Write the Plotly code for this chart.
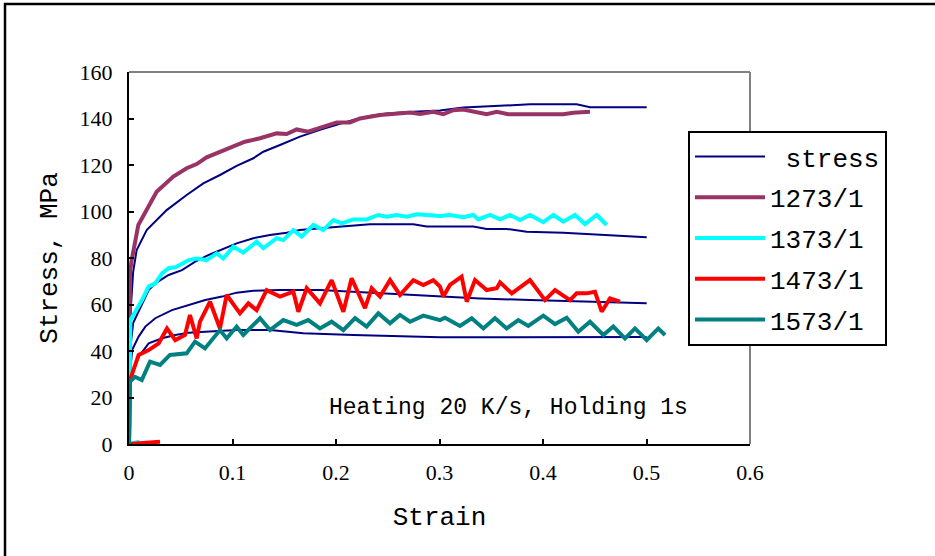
import plotly.graph_objects as go

# ---------------- data ----------------
x_ticks = [0, 0.1, 0.2, 0.3, 0.4, 0.5, 0.6]
x_tick_labels = ["0", "0.1", "0.2", "0.3", "0.4", "0.5", "0.6"]
y_ticks = [0, 20, 40, 60, 80, 100, 120, 140, 160]
y_tick_labels = ["0", "20", "40", "60", "80", "100", "120", "140", "160"]

series_names = ["1273/1", "1373/1", "1473/1", "1573/1"]

stress1_pts = [(0, 0), (0.002, 60), (0.004, 74), (0.0074, 83.4), (0.0171, 92.0), (0.0267, 96.3),
               (0.0364, 100.6), (0.0557, 107.1), (0.0718, 112.1), (0.0879, 115.7), (0.104, 119.6),
               (0.1201, 122.9), (0.1298, 125.7), (0.1459, 128.6), (0.1652, 132.2), (0.1845, 135.1),
               (0.2007, 137.2), (0.2167, 139.4), (0.2329, 141.1), (0.249, 142.2), (0.2747, 142.9),
               (0.3005, 143.4), (0.323, 144.7), (0.3553, 145.4), (0.3874, 146.1), (0.4325, 146.1),
               (0.4454, 144.8), (0.5002, 144.8)]
stress2_pts = [(0, 0), (0.001, 40), (0.004, 52), (0.0126, 60.5), (0.019, 66.2), (0.0254, 69.1),
               (0.0383, 72.7), (0.0512, 74.8), (0.064, 78.4), (0.077, 81.3), (0.0879, 83.4),
               (0.104, 86.3), (0.1201, 88.5), (0.1362, 89.9), (0.1523, 90.9), (0.1652, 92.0),
               (0.1845, 92.8), (0.2167, 93.8), (0.2329, 94.5), (0.2747, 94.5), (0.2876, 93.5),
               (0.3327, 93.5), (0.3456, 92.5), (0.365, 92.5), (0.3842, 91.3), (0.4196, 90.9),
               (0.5002, 88.9)]
stress3_pts = [(0, 0), (0.001, 30), (0.003, 40.4), (0.0093, 46.2), (0.0158, 50.5), (0.0254, 54.1),
               (0.0415, 57.6), (0.0577, 59.8), (0.0737, 61.9), (0.09, 63.4), (0.104, 65.1),
               (0.1201, 65.9), (0.1459, 66.2), (0.1845, 66.2), (0.2167, 65.5), (0.249, 64.8),
               (0.3005, 63.7), (0.3391, 62.6), (0.3874, 61.9), (0.5002, 60.5)]
stress4_pts = [(0, 0), (0.001, 25), (0.005, 33), (0.01, 38), (0.019, 43.3), (0.0319, 45.5),
               (0.0447, 46.9), (0.0577, 47.9), (0.0737, 48.3), (0.104, 49.0), (0.1362, 49.0),
               (0.1684, 47.6), (0.2167, 46.9), (0.3005, 45.9), (0.5002, 46.0)]

s1273_pts = [(0, 0), (0.001, 74), (0.0026, 79.1), (0.009, 94.2), (0.0267, 108.5), (0.0428, 115.0),
             (0.0557, 118.6), (0.0654, 120.4), (0.075, 123.3), (0.0879, 125.6), (0.1008, 127.9),
             (0.112, 130.0), (0.1266, 131.5), (0.1427, 133.6), (0.1523, 133.3), (0.162, 135.3),
             (0.173, 134.3), (0.1845, 135.8), (0.2007, 138.3), (0.2135, 138.3), (0.2232, 140.0),
             (0.2425, 141.5), (0.2522, 141.9), (0.2715, 142.6), (0.2812, 141.9), (0.294, 142.9),
             (0.3037, 141.9), (0.3133, 143.6), (0.323, 143.9), (0.3327, 142.9), (0.3456, 141.8),
             (0.3553, 142.9), (0.3665, 141.8), (0.4196, 141.8), (0.4293, 142.5), (0.4454, 142.9)]
s1373_pts = [(0.01, 1), (0, 0), (0.0013, 53.3), (0.0061, 56.9), (0.0126, 61.9), (0.019, 67.7),
             (0.0254, 69.1), (0.0319, 73.4), (0.0383, 75.6), (0.045, 76.0), (0.0577, 79.1),
             (0.0654, 79.8), (0.075, 79.1), (0.0847, 82.0), (0.0911, 79.8), (0.1008, 84.9),
             (0.1104, 82.3), (0.1233, 87.0), (0.1298, 84.2), (0.1427, 88.5), (0.1491, 87.7),
             (0.1588, 92.0), (0.1668, 89.2), (0.1781, 94.2), (0.1877, 92.0), (0.1974, 96.3),
             (0.2055, 94.9), (0.2167, 96.6), (0.2296, 96.6), (0.2409, 98.5), (0.249, 97.8),
             (0.2586, 98.5), (0.2683, 97.8), (0.278, 98.8), (0.2908, 98.5), (0.3005, 98.1),
             (0.3101, 98.5), (0.323, 97.5), (0.3327, 98.5), (0.3375, 96.6), (0.3488, 98.5),
             (0.3585, 96.6), (0.3681, 98.5), (0.3778, 96.3), (0.3874, 98.5), (0.4003, 95.4),
             (0.41, 98.5), (0.4196, 95.6), (0.4309, 98.5), (0.4406, 94.6), (0.4519, 98.5),
             (0.4615, 94.2)]
s1473_pts = [(0.03, 1), (0, 0), (0.001, 27.5), (0.0093, 38.3), (0.019, 40.4), (0.0287, 43.3),
             (0.0367, 49.7), (0.0447, 44.7), (0.0541, 46.9), (0.0589, 55.5), (0.0654, 45.4),
             (0.0686, 52.6), (0.0783, 61.2), (0.0879, 49.7), (0.0944, 64.1), (0.1072, 56.2),
             (0.1153, 60.5), (0.1233, 57.6), (0.133, 66.2), (0.1459, 63.4), (0.1588, 65.5),
             (0.1636, 56.9), (0.1717, 67.0), (0.1845, 60.5), (0.1958, 70.5), (0.2071, 56.9),
             (0.2151, 71.3), (0.2232, 63.4), (0.228, 58.4), (0.2345, 67.0), (0.2425, 63.4),
             (0.2522, 70.5), (0.2618, 64.1), (0.2747, 70.5), (0.2844, 68.4), (0.294, 70.5),
             (0.3005, 67.7), (0.3037, 63.4), (0.3101, 68.4), (0.3214, 72.0), (0.3263, 61.2),
             (0.3343, 70.5), (0.3456, 66.2), (0.3553, 67.0), (0.3585, 69.5), (0.3698, 64.8),
             (0.3874, 70.5), (0.4019, 61.9), (0.4116, 66.2), (0.4261, 61.9), (0.4325, 64.8),
             (0.4422, 64.8), (0.4502, 65.5), (0.4567, 56.9), (0.4647, 62.6), (0.4744, 61.2)]
s1573_pts = [(0, 0), (0.001, 26.8), (0.0058, 28.9), (0.0123, 27.5), (0.0203, 35.4), (0.03, 34.0),
             (0.0396, 38.3), (0.0557, 39.0), (0.0638, 44.0), (0.0734, 41.1), (0.0879, 49.0),
             (0.0944, 45.4), (0.104, 50.5), (0.1104, 46.9), (0.1266, 54.1), (0.1362, 49.0),
             (0.1491, 53.3), (0.162, 51.2), (0.1732, 53.3), (0.1845, 49.7), (0.1958, 52.6),
             (0.2071, 49.0), (0.2184, 54.1), (0.2296, 50.5), (0.2409, 56.2), (0.2522, 51.9),
             (0.2618, 55.5), (0.2715, 52.6), (0.2844, 55.2), (0.3005, 53.3), (0.3053, 54.3),
             (0.3198, 50.8), (0.3311, 54.1), (0.3424, 49.7), (0.3536, 54.1), (0.3649, 49.7),
             (0.3761, 53.3), (0.3858, 50.8), (0.4003, 55.2), (0.4116, 51.6), (0.4229, 54.3),
             (0.4341, 48.3), (0.4454, 52.6), (0.4583, 46.9), (0.4679, 50.5), (0.4792, 45.4),
             (0.4889, 49.7), (0.5002, 44.7), (0.5114, 49.7), (0.5179, 46.9)]

# ---------------- styles ----------------
NAVY = "#000080"
colors = ["#993366", "#00FFFF", "#FF0000", "#008080"]
MONO = "Liberation Mono"
SERIF = "Liberation Serif"


def unzip(pts):
    return [p[0] for p in pts], [p[1] for p in pts]


fig = go.Figure()

for i, pts in enumerate([stress1_pts, stress2_pts, stress3_pts, stress4_pts]):
    xs, ys = unzip(pts)
    fig.add_trace(go.Scatter(
        x=xs, y=ys, mode="lines", name="\u00a0stress",
        line=dict(color=NAVY, width=2),
        legendgroup="stress", showlegend=(i == 0)))

for name, pts, col in zip(series_names, [s1273_pts, s1373_pts, s1473_pts, s1573_pts], colors):
    xs, ys = unzip(pts)
    fig.add_trace(go.Scatter(
        x=xs, y=ys, mode="lines", name=name,
        line=dict(color=col, width=4),
        legendgroup=name))

W, H = 935, 556
L, R, T, B = 129, 750, 72, 444
pw, ph = R - L, B - T


def px2paper_x(px):
    return (px - L) / pw


def px2paper_y(py):
    return (B - py) / ph


fig.update_layout(
    width=W, height=H,
    margin=dict(l=L, r=W - R, t=T, b=H - B),
    paper_bgcolor="white", plot_bgcolor="white",
    font=dict(family=MONO, color="black"),
    showlegend=True,
    legend=dict(
        x=px2paper_x(688), y=px2paper_y(131), xanchor="left", yanchor="top",
        bgcolor="white", bordercolor="black", borderwidth=2,
        font=dict(family=MONO, size=26, color="black"),
        tracegroupgap=4, itemwidth=70,
    ),
    xaxis=dict(
        range=[0, 0.6], tickvals=x_ticks, ticktext=x_tick_labels,
        showgrid=False, zeroline=False,
        showline=True, linecolor="black", linewidth=2,
        ticks="inside", ticklen=5, tickwidth=2, tickcolor="black",
        tickfont=dict(family=SERIF, size=22, color="black"),
        ticklabelstandoff=8,
        title=dict(text="Strain", font=dict(family=MONO, size=26, color="black"), standoff=22),
    ),
    yaxis=dict(
        range=[0, 160], tickvals=y_ticks, ticktext=y_tick_labels,
        showgrid=False, zeroline=False,
        showline=True, linecolor="black", linewidth=2,
        ticks="inside", ticklen=5, tickwidth=2, tickcolor="black",
        tickfont=dict(family=SERIF, size=22, color="black"),
        ticklabelstandoff=10,
        title=dict(text="Stress,\u00a0MPa", font=dict(family=MONO, size=26, color="black"), standoff=14),
    ),
    annotations=[dict(
        text="Heating 20 K/s, Holding 1s", x=0.3667, y=15.5, xref="x", yref="y",
        showarrow=False, font=dict(family=MONO, size=23, color="black"),
    )],
    shapes=[
        # gray top and right plot-area borders
        dict(type="line", xref="paper", yref="paper", x0=0, x1=1, y0=1, y1=1,
             line=dict(color="#808080", width=2), layer="below"),
        dict(type="line", xref="paper", yref="paper", x0=1, x1=1, y0=0, y1=1,
             line=dict(color="#808080", width=2), layer="below"),
        # outer chart frame
        dict(type="rect", xref="paper", yref="paper",
             x0=px2paper_x(5), x1=px2paper_x(W + 20),
             y0=px2paper_y(H + 20), y1=px2paper_y(4),
             line=dict(color="black", width=2.5), fillcolor="rgba(0,0,0,0)"),
    ],
)

fig.write_html("out.html")
